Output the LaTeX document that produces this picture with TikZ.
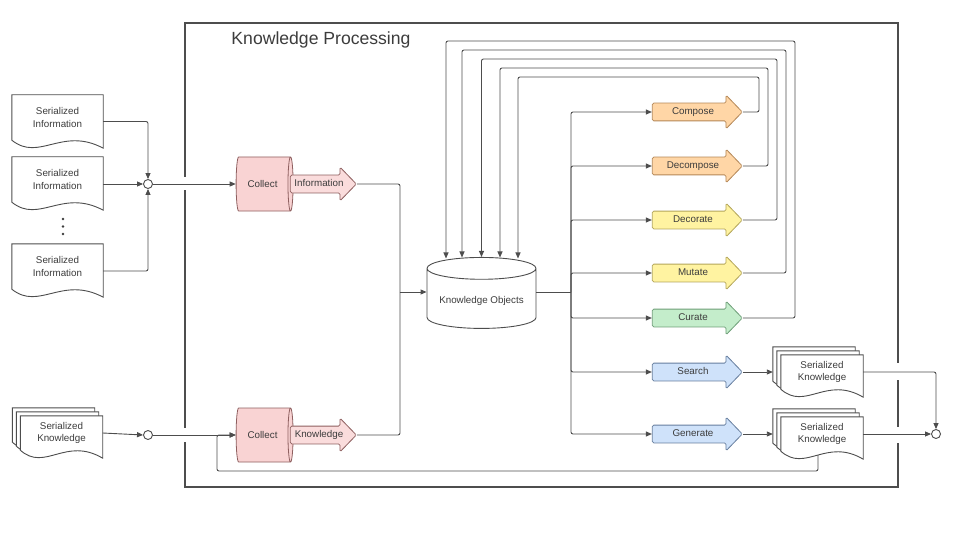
\documentclass[tikz,border=0pt]{standalone}
\usepackage{fontspec}
\setmainfont{Liberation Sans}
\usepackage{tikz}
\usetikzlibrary{calc}
\usetikzlibrary{shapes.geometric}
\usetikzlibrary{shapes.arrows}
\usetikzlibrary{arrows.meta}
\usetikzlibrary{backgrounds}

\definecolor{linegray}{HTML}{4D4D4D}
\definecolor{txtgray}{HTML}{3C3C3C}
\definecolor{pinkfill}{HTML}{F9D3D3}
\definecolor{pinkline}{HTML}{8E5F5F}
\definecolor{orgfill}{HTML}{FFD6A6}
\definecolor{orgline}{HTML}{B48757}
\definecolor{yelfill}{HTML}{FFF3A1}
\definecolor{yelline}{HTML}{B3A55A}
\definecolor{grnfill}{HTML}{C4EDCB}
\definecolor{grnline}{HTML}{6E9E78}
\definecolor{blufill}{HTML}{CFE2FA}
\definecolor{bluline}{HTML}{667E9E}

\tikzset{
  every node/.style={font=\fontsize{9.8}{12.3}\selectfont, text=txtgray},
  wire/.style={draw=linegray, line width=0.9pt, rounded corners=2pt},
  conn/.style={wire, -{Triangle[length=6pt,width=5pt]}},
  boxframe/.style={draw=linegray, line width=1.8pt},
  docline/.style={draw=linegray, line width=0.9pt, fill=white},
  doctext/.style={minimum width=91, minimum height=45, inner sep=0pt, align=center},
  stacktext/.style={minimum width=82, minimum height=34, inner sep=0pt, align=center},
  junction/.style={circle, draw=linegray, fill=white, line width=0.9pt, minimum size=9, inner sep=0pt},
  collect/.style={cylinder, shape aspect=0.37, minimum width=54, minimum height=57, draw=pinkline, fill=pinkfill, line width=0.8pt},
  store/.style={cylinder, shape border rotate=90, shape aspect=0.24, minimum width=109, minimum height=71, draw=linegray, fill=white, line width=0.9pt},
  procarrow/.style={single arrow, single arrow head extend=8pt, single arrow tip angle=92, minimum height=90, text height=7pt, text depth=2pt, inner ysep=4pt, inner xsep=2pt, line width=0.8pt, rounded corners=1.5pt},
  pinkarrow/.style={procarrow, minimum height=66, draw=pinkline, fill=pinkfill!80},
  orgarrow/.style={procarrow, draw=orgline, fill=orgfill},
  yelarrow/.style={procarrow, draw=yelline, fill=yelfill},
  grnarrow/.style={procarrow, draw=grnline, fill=grnfill},
  bluarrow/.style={procarrow, draw=bluline, fill=blufill}
}

\newcommand\docshape[3]{%
  \filldraw[docline] ($(#1.south west)+(#2,#3)$) -- ($(#1.north west)+(#2,#3)$) -- ($(#1.north east)+(#2,#3)$) -- ($(#1.south east)+(#2,#3+8)$)
    .. controls ($(#1.south west)!0.55!(#1.south east)+(#2,#3-14)$) and ($(#1.south west)!0.3!(#1.south east)+(#2,#3+22)$) .. ($(#1.south west)+(#2,#3)$) -- cycle;}

\begin{document}
\begin{tikzpicture}[x=1pt,y=-1pt]
\useasboundingbox (0,0) rectangle (960,540);

\draw[boxframe] (185,23) rectangle (898,487);
\fill[white] (182,177) rectangle (188,190);
\fill[white] (182,428) rectangle (188,442);
\fill[white] (895,363) rectangle (901,380);
\fill[white] (895,427) rectangle (901,443);
\node (ttl) at (321,40) [font=\fontsize{17.6}{20}\selectfont] {Knowledge Processing};

\node (si1) at (57.5,117.5) [doctext] {Serialized\\Information};
\node (si2) at (57.5,179.5) [doctext] {Serialized\\Information};
\node (si3) at (57.5,266.5) [doctext] {Serialized\\Information};
\node (sk0) at (61.5,433) [stacktext] {Serialized\\Knowledge};
\node (sk1) at (822,372) [stacktext] {Serialized\\Knowledge};
\node (sk2) at (822,434) [stacktext] {Serialized\\Knowledge};
\fill[txtgray] (63,219) circle (1.4);
\fill[txtgray] (63,226.5) circle (1.4);
\fill[txtgray] (63,234) circle (1.4);

\begin{scope}[on background layer]
\docshape{si1}{0}{0}
\docshape{si2}{0}{0}
\docshape{si3}{0}{0}
\docshape{sk0}{-8}{-8}
\docshape{sk0}{-4}{-4}
\docshape{sk0}{0}{0}
\docshape{sk1}{-8}{-8}
\docshape{sk1}{-4}{-4}
\docshape{sk1}{0}{0}
\docshape{sk2}{-8}{-8}
\docshape{sk2}{-4}{-4}
\docshape{sk2}{0}{0}
\end{scope}

\node (j1) at (148,184) [junction] {};
\node (j3) at (148,435) [junction] {};
\node (j2) at (936,434) [junction] {};

\node (col1) at (262.5,184) [collect] {Collect};
\node (col2) at (262.5,435) [collect] {Collect};
\node (inf) at (319,184) [pinkarrow] {Information};
\node (knw) at (319,435) [pinkarrow] {Knowledge};

\node (ko) at (481.5,300.5) [store] {Knowledge Objects};

\node (cmp) at (693,112) [orgarrow] {Compose};
\node (dcp) at (693,166) [orgarrow] {Decompose};
\node (dco) at (693,220) [yelarrow] {Decorate};
\node (mut) at (693,273) [yelarrow] {Mutate};
\node (cur) at (693,318) [grnarrow] {Curate};
\node (srch) at (693,372) [bluarrow] {Search};
\node (gen) at (693,434) [bluarrow] {Generate};

\coordinate (mrg) at (400,292);
\coordinate (bus) at (571,292);
\coordinate (lp) at (217,471);

\draw[conn] ($(si1.east)+(0,4)$) -| (j1.north);
\draw[conn] (si2.east |- j1) -- (j1.west);
\draw[conn] ($(si3.east)+(0,4.5)$) -| (j1.south);
\draw[conn] (j1.east) -- (col1.west);
\draw[conn] (sk0.east) -- (j3.west);
\draw[conn] (j3.east) -- (col2.west);
\draw[conn] ($(sk2.south)+(-4,4)$) |- (lp) |- (col2.west);

\draw[wire] (inf.tip) -| (mrg);
\draw[wire] (knw.tip) -| (mrg);
\draw[conn] (mrg) -- (mrg -| ko.west);

\draw[wire] (ko.east |- bus) -- (bus);
\draw[conn] (bus) |- (cmp.tail);
\draw[conn] (bus) |- (dcp.tail);
\draw[conn] (bus) |- (dco.tail);
\draw[conn] (bus) |- (mut.tail);
\draw[conn] (bus) |- (cur.tail);
\draw[conn] (bus) |- (srch.tail);
\draw[conn] (bus) |- (gen.tail);

\draw[conn] (cmp.tip) -| (759,77) -| ($(ko.north)+(36.5,1.5)$);
\draw[conn] (dcp.tip) -| (768,68) -| ($(ko.north)+(18.5,0.5)$);
\draw[conn] (dco.tip) -| (777,59) -| (ko.north);
\draw[conn] (mut.tip) -| (786,50) -| ($(ko.north)+(-19.5,0.5)$);
\draw[conn] (cur.tip) -| (795,41) -| ($(ko.north)+(-35.5,1.5)$);

\draw[conn] (srch.tip) -- ($(sk1.west)+(-8,0)$);
\draw[conn] (gen.tip) -- ($(sk2.west)+(-8,0)$);
\draw[conn] (sk1.east) -| (j2.north);
\draw[conn] (sk2.east) -- (j2.west);
\end{tikzpicture}
\end{document}
